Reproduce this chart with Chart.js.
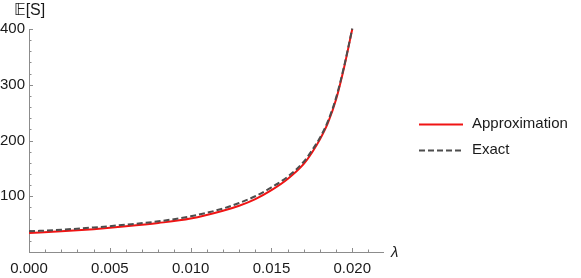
<!DOCTYPE html>
<html>
<head>
<meta charset="utf-8">
<script src="https://cdn.jsdelivr.net/npm/chart.js@4.4.1/dist/chart.umd.min.js"></script>
<style>
  html, body { margin: 0; padding: 0; background: #fff; }
  #wrap { width: 581px; height: 278px; }
</style>
</head>
<body>
<div id="wrap"><canvas id="grafica" width="581" height="278"></canvas></div>
<script>
// valores
const lambdas = [0, 0.002, 0.004, 0.006, 0.008, 0.010, 0.012, 0.013, 0.014, 0.015, 0.016, 0.017, 0.0175, 0.018, 0.0185, 0.019, 0.0195, 0.020];
const approx  = [34, 37, 41, 46, 52, 60, 74, 83, 95, 111, 131, 158, 178, 202, 232, 274, 332, 400];
const exact   = [37, 40, 44, 49, 55, 64, 78, 88, 100, 116, 135, 162, 182, 205, 235, 277, 334, 401];

const xTicks = [0, 0.005, 0.010, 0.015, 0.020];
const yTicks = [100, 200, 300, 400];

const FONT = '"Liberation Sans", Arial, "DejaVu Sans", sans-serif';
const AXIS = '#8c8c8c';

const minorX = [];
for (let i = 1; i <= 21; i++) minorX.push(i / 1000);
const minorY = [];
for (let v = 20; v <= 400; v += 20) minorY.push(v);

// ticks hacia adentro (estilo Mathematica)
const ticksDentro = {
  id: 'ticksDentro',
  beforeDatasetsDraw(chart) {
    const { ctx, chartArea, scales } = chart;
    ctx.save();
    ctx.strokeStyle = AXIS;
    ctx.lineWidth = 1;
    ctx.beginPath();
    for (const v of minorX) {
      const px = Math.round(scales.x.getPixelForValue(v)) + 0.5;
      const major = xTicks.some(t => Math.abs(t - v) < 1e-9);
      ctx.moveTo(px, chartArea.bottom);
      ctx.lineTo(px, chartArea.bottom - (major ? 4 : 2.5));
    }
    for (const v of minorY) {
      const py = Math.round(scales.y.getPixelForValue(v)) + 0.5;
      const major = yTicks.includes(v);
      ctx.moveTo(chartArea.left, py);
      ctx.lineTo(chartArea.left + (major ? 4 : 2.5), py);
    }
    ctx.stroke();
    ctx.restore();
  }
};

// etiquetas de ejes y leyenda
const textos = {
  id: 'textos',
  afterDraw(chart) {
    const { ctx, chartArea } = chart;
    ctx.save();
    ctx.fillStyle = '#1a1a1a';
    ctx.font = '16px ' + FONT;
    ctx.textAlign = 'left';
    ctx.textBaseline = 'middle';
    ctx.fillText('𝔼[S]', 14, 11);
    ctx.font = 'italic 15px ' + FONT;
    ctx.fillText('λ', chartArea.right + 8, chartArea.bottom + 1);

    ctx.font = '15px ' + FONT;
    const filas = [124, 150];
    chart.data.datasets.forEach((ds, i) => {
      const y = filas[i] + 0.5;
      ctx.beginPath();
      ctx.strokeStyle = ds.borderColor;
      ctx.lineWidth = 2;
      ctx.setLineDash(ds.borderDash || []);
      ctx.moveTo(419, y);
      ctx.lineTo(463, y);
      ctx.stroke();
      ctx.setLineDash([]);
      ctx.fillText(ds.label, 472, filas[i]);
    });
    ctx.restore();
  }
};

new Chart(document.getElementById('grafica'), {
  type: 'line',
  data: {
    datasets: [
      {
        label: 'Approximation',
        data: lambdas.map((x, i) => ({ x, y: approx[i] })),
        borderColor: '#f01414',
        borderWidth: 2,
        pointRadius: 0,
        cubicInterpolationMode: 'monotone',
        order: 2,
      },
      {
        label: 'Exact',
        data: lambdas.map((x, i) => ({ x, y: exact[i] })),
        borderColor: '#4d4d4d',
        borderWidth: 2,
        borderDash: [6, 3],
        pointRadius: 0,
        cubicInterpolationMode: 'monotone',
        order: 1,
      },
    ],
  },
  options: {
    responsive: false,
    animation: false,
    devicePixelRatio: 1,
    clip: false,
    layout: { padding: { top: 29, right: 198, left: 0, bottom: 0 } },
    plugins: { legend: { display: false }, tooltip: { enabled: false } },
    scales: {
      x: {
        type: 'linear',
        min: 0,
        max: 0.0219,
        grid: { display: false, drawTicks: false },
        border: { display: true, color: AXIS, width: 1 },
        afterBuildTicks: s => { s.ticks = xTicks.map(v => ({ value: v })); },
        afterFit: s => { s.height = 26; },
        ticks: {
          callback: v => v.toFixed(3),
          font: { family: FONT, size: 15 },
          color: '#1a1a1a',
          padding: 8,
          maxRotation: 0,
        },
      },
      y: {
        min: 0,
        max: 400,
        grid: { display: false, drawTicks: false },
        border: { display: true, color: AXIS, width: 1 },
        afterBuildTicks: s => { s.ticks = yTicks.map(v => ({ value: v })); },
        afterFit: s => { s.width = 29; },
        ticks: {
          font: { family: FONT, size: 15 },
          color: '#1a1a1a',
          padding: 4,
        },
      },
    },
  },
  plugins: [ticksDentro, textos],
});
</script>
</body>
</html>
